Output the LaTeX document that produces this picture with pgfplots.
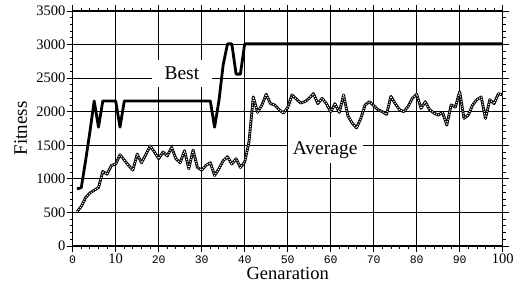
\documentclass[border=0pt]{standalone}
\usepackage{fontspec}
\setmainfont{Liberation Serif}
\newfontfamily\monofont{Liberation Mono}
\usepackage{pgfplots}
\pgfplotsset{compat=1.18}
\newcommand{\mt}[1]{{\fontsize{11.5}{12}\monofont #1}}
\begin{document}
\begin{tikzpicture}
\begin{axis}[
  scale only axis, width=430pt, height=235pt,
  xmin=0, xmax=100, ymin=0, ymax=3500,
  xtick={0,10,...,100}, ytick={0,500,...,3500},
  xticklabels={\mt{0},10,\mt{20},\mt{30},\mt{40},\mt{50},\mt{60},\mt{70},\mt{80},\mt{90},100},
  minor x tick num=4, minor y tick num=4,
  grid=major, major grid style={black, line width=1pt},
  axis line style={black, line width=1.2pt},
  tick style={black, line width=0.8pt},
  major tick length=6pt, minor tick length=3pt,
  tick align=outside,
  /pgf/number format/assume math mode=true,
  /pgf/number format/1000 sep={},
  tick label style={font=\fontsize{14.5}{16}\selectfont},
  xticklabel style={anchor=base, yshift=-11.5pt},
  yticklabel style={inner sep=1pt},
  xlabel={Genaration}, ylabel={Fitness},
  xlabel style={at={(axis description cs:0.5,0)}, anchor=base, yshift=-34pt, font=\fontsize{18.5}{20}\selectfont},
  ylabel style={at={(axis description cs:-0.121,0.5)}, anchor=center, font=\fontsize{19}{20}\selectfont},
]
\addplot[black, line width=2.8pt, line join=round] coordinates {
(1,850)(2,870)(3,1270)(4,1700)(5,2160)(6,1770)(7,2160)(8,2160)(9,2160)(10,2160)
(11,1770)(12,2160)(20,2160)(32,2160)(33,1770)(34,2160)(35,2700)(36,3010)(37,3010)
(38,2560)(39,2560)(40,3010)(100,3010)};
\addplot[black, line width=2.8pt, line join=round] coordinates {
(1,510)(2,590)(3,720)(4,790)(5,830)(6,870)(7,1110)(8,1070)(9,1200)(10,1220)
(11,1360)(12,1280)(13,1200)(14,1130)(15,1370)(16,1240)(17,1360)(18,1490)(19,1400)(20,1300)
(21,1400)(22,1340)(23,1470)(24,1300)(25,1240)(26,1420)(27,1150)(28,1430)(29,1170)(30,1130)
(31,1200)(32,1240)(33,1050)(34,1150)(35,1270)(36,1330)(37,1220)(38,1300)(39,1170)(40,1250)
(41,1550)(42,2220)(43,1990)(44,2100)(45,2260)(46,2120)(47,2100)(48,2030)(49,1980)(50,2060)
(51,2250)(52,2190)(53,2130)(54,2150)(55,2200)(56,2270)(57,2120)(58,2200)(59,2120)(60,2000)
(61,2120)(62,1990)(63,2250)(64,1940)(65,1830)(66,1760)(67,1900)(68,2100)(69,2150)(70,2090)
(71,2030)(72,2000)(73,1960)(74,2230)(75,2120)(76,2030)(77,2000)(78,2080)(79,2200)(80,2260)
(81,2050)(82,2150)(83,2030)(84,1980)(85,1950)(86,1990)(87,1800)(88,2100)(89,2070)(90,2300)
(91,1900)(92,1950)(93,2100)(94,2180)(95,2220)(96,1900)(97,2180)(98,2120)(99,2270)(100,2250)};
\addplot[white, line width=1pt, dash pattern=on 1pt off 1.4pt, line join=round] coordinates {
(1,510)(2,590)(3,720)(4,790)(5,830)(6,870)(7,1110)(8,1070)(9,1200)(10,1220)
(11,1360)(12,1280)(13,1200)(14,1130)(15,1370)(16,1240)(17,1360)(18,1490)(19,1400)(20,1300)
(21,1400)(22,1340)(23,1470)(24,1300)(25,1240)(26,1420)(27,1150)(28,1430)(29,1170)(30,1130)
(31,1200)(32,1240)(33,1050)(34,1150)(35,1270)(36,1330)(37,1220)(38,1300)(39,1170)(40,1250)
(41,1550)(42,2220)(43,1990)(44,2100)(45,2260)(46,2120)(47,2100)(48,2030)(49,1980)(50,2060)
(51,2250)(52,2190)(53,2130)(54,2150)(55,2200)(56,2270)(57,2120)(58,2200)(59,2120)(60,2000)
(61,2120)(62,1990)(63,2250)(64,1940)(65,1830)(66,1760)(67,1900)(68,2100)(69,2150)(70,2090)
(71,2030)(72,2000)(73,1960)(74,2230)(75,2120)(76,2030)(77,2000)(78,2080)(79,2200)(80,2260)
(81,2050)(82,2150)(83,2030)(84,1980)(85,1950)(86,1990)(87,1800)(88,2100)(89,2070)(90,2300)
(91,1900)(92,1950)(93,2100)(94,2180)(95,2220)(96,1900)(97,2180)(98,2120)(99,2270)(100,2250)};
\node[fill=white, inner sep=0pt, minimum width=60pt, minimum height=27pt, font=\fontsize{19.5}{20}\selectfont] at (axis cs:25.4,2569) {Best};
\node[fill=white, inner sep=0pt, minimum width=75pt, minimum height=26pt, font=\fontsize{19.5}{20}\selectfont] at (axis cs:58.7,1430) {Average};
\coordinate (ll) at (rel axis cs:0,0);
\coordinate (ur) at (rel axis cs:1,1);
\end{axis}
\pgfresetboundingbox
\path ([shift={(-72.7pt,-48pt)}]ll) rectangle ([shift={(22.3pt,11pt)}]ur);
\end{tikzpicture}
\end{document}
